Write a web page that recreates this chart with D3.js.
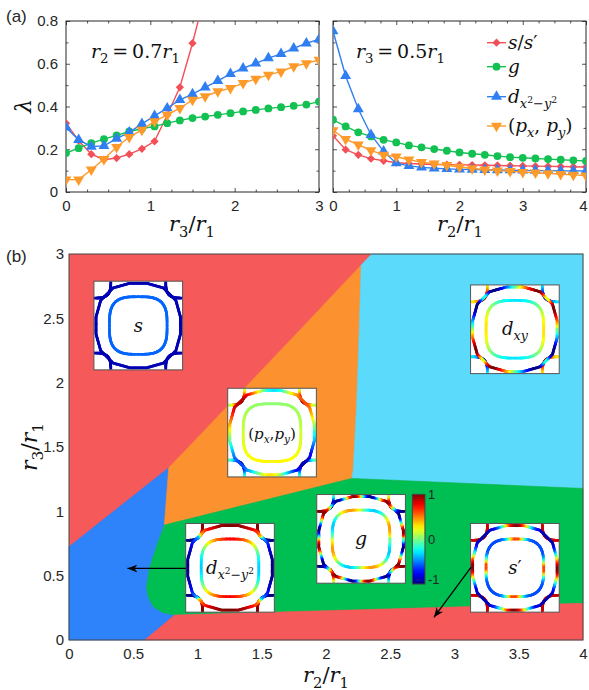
<!DOCTYPE html>
<html>
<head>
<meta charset="utf-8">
<script src="https://cdn.jsdelivr.net/npm/d3@7"></script>
<style>
  body { margin: 0; background: #fff; }
  svg { display: block; }
</style>
</head>
<body>
<svg id="fig" width="589" height="690"></svg>
<script>
// ---------- panel (a): pairing eigenvalues ----------
const xLeft  = [0, 0.15, 0.3, 0.45, 0.6, 0.75, 0.9, 1.05, 1.2, 1.35, 1.5, 1.65, 1.8, 1.95, 2.1, 2.25, 2.4, 2.55, 2.7, 2.85, 3.0];
const xRight = [0, 0.2, 0.4, 0.6, 0.8, 1.0, 1.2, 1.4, 1.6, 1.8, 2.0, 2.2, 2.4, 2.6, 2.8, 3.0, 3.2, 3.4, 3.6, 3.8, 4.0];

// r2 = 0.7 r1, as a function of r3/r1
const sLeft = [0.322, 0.240, 0.177, 0.151, 0.159, 0.177, 0.202, 0.237, 0.360, 0.490, 0.696, 0.930];
const gLeft = [0.182, 0.205, 0.229, 0.247, 0.265, 0.283, 0.296, 0.307, 0.322, 0.335, 0.346, 0.353, 0.361, 0.369, 0.377, 0.384, 0.391, 0.397, 0.403, 0.409, 0.423];
const dLeft = [0.302, 0.244, 0.213, 0.216, 0.250, 0.279, 0.319, 0.356, 0.392, 0.431, 0.458, 0.490, 0.520, 0.553, 0.579, 0.602, 0.626, 0.646, 0.672, 0.696, 0.714];
const pLeft = [0.058, 0.058, 0.104, 0.154, 0.210, 0.257, 0.291, 0.330, 0.361, 0.392, 0.431, 0.447, 0.470, 0.486, 0.509, 0.529, 0.548, 0.563, 0.587, 0.602, 0.618];

// r3 = 0.5 r1, as a function of r2/r1
const sRight = [0.263, 0.198, 0.174, 0.156, 0.146, 0.137, 0.133, 0.131, 0.129, 0.128, 0.127, 0.126, 0.125, 0.124, 0.123, 0.122, 0.121, 0.120, 0.119, 0.118, 0.117];
const gRight = [0.338, 0.307, 0.279, 0.260, 0.244, 0.232, 0.218, 0.209, 0.201, 0.193, 0.185, 0.179, 0.174, 0.168, 0.163, 0.160, 0.157, 0.154, 0.151, 0.148, 0.145];
const dRight = [0.753, 0.543, 0.388, 0.268, 0.190, 0.135, 0.122, 0.115, 0.111, 0.108, 0.106, 0.105, 0.104, 0.103, 0.102, 0.101, 0.100, 0.100, 0.099, 0.099, 0.098];
const pRight = [0.288, 0.247, 0.221, 0.195, 0.174, 0.165, 0.151, 0.140, 0.132, 0.125, 0.117, 0.110, 0.105, 0.100, 0.097, 0.093, 0.090, 0.087, 0.083, 0.080, 0.077];

const yTicksA = [0, 0.2, 0.4, 0.6, 0.8];
const yMinorA = [0.1, 0.3, 0.5, 0.7];
const xTicksL = [0, 1, 2, 3];
const xTicksR = [0, 1, 2, 3, 4];
const xMinorL = [0.25, 0.5, 0.75, 1.25, 1.5, 1.75, 2.25, 2.5, 2.75];
const xMinorR = [0.25, 0.5, 0.75, 1.25, 1.5, 1.75, 2.25, 2.5, 2.75, 3.25, 3.5, 3.75];

// ---------- panel (b): phase diagram in (r2/r1, r3/r1) ----------
const xTicksB = [0, 0.5, 1, 1.5, 2, 2.5, 3, 3.5, 4];
const yTicksB = [0, 0.5, 1, 1.5, 2, 2.5, 3];

// phase boundaries
const phaseBlue   = [[0, 0], [0, 0.725], [0.776, 1.339], [0.742, 0.894], [0.681, 0.725], [0.629, 0.570], [0.603, 0.414], [0.616, 0.337], [0.655, 0.259], [0.733, 0.212], [0.823, 0.194], [0.59, 0]];
const phaseOrange = [[0.776, 1.339], [0.95, 1.52], [1.797, 2.409], [2.274, 2.914], [2.256, 2.33], [2.238, 1.813], [2.212, 1.321], [2.20, 1.256], [0.742, 0.894]];
const phaseCyan   = [[2.274, 2.914], [2.355, 3.0], [4, 3], [4, 1.178], [2.20, 1.256], [2.212, 1.321], [2.238, 1.813], [2.256, 2.33]];
const phaseGreen  = [[0.742, 0.894], [2.20, 1.256], [4, 1.178], [4, 0.285], [0.823, 0.194], [0.733, 0.212], [0.655, 0.259], [0.616, 0.337], [0.603, 0.414], [0.629, 0.570], [0.681, 0.725]];
const phaseRedLow = [[0.59, 0], [0.823, 0.194], [4, 0.285], [4, 0]];

// Fermi-surface insets: gap symmetry, centre (r2, r3)
const insetKeys    = ['s', 'p', 'dxy', 'd', 'g', 'sp'];
const insetCenters = [[0.539, 2.444], [1.580, 1.612], [3.470, 2.415], [1.253, 0.561], [2.273, 0.786], [3.470, 0.561]];
const insetSize = 0.69;        // in r2/r1 units
const colorbarBox = [[2.672, 1.132], [2.770, 0.435]];
const colorbarTicks = [1, 0, -1];
const arrowD  = [[0.91, 0.556], [0.455, 0.556]];
const arrowSp = [[3.128, 0.565], [2.84, 0.176]];

// ---------- styles ----------
const C = { s: '#f24f57', g: '#12c152', d: '#2f7ff2', p: '#fd9a2a' };
const PH = { red: '#f65959', orange: '#fc9130', cyan: '#5bdafc', green: '#00bf52', blue: '#2e82fa' };
const SANS = "'Liberation Sans', Arial, Helvetica, sans-serif";
const SERIF = "'DejaVu Serif', 'Liberation Serif', serif";
const AX = '#262626';

const svg = d3.select('#fig');
svg.append('rect').attr('width', 589).attr('height', 690).attr('fill', '#fff');

// math text: parts = [text, 'i'|'r', level]; level b=baseline, sub, ss=sup inside sub
function math(g, x, y, size, parts, anchor = 'start', rot = null) {
  const t = g.append('text').attr('x', x).attr('y', y)
    .attr('font-family', SERIF).attr('font-size', size)
    .attr('text-anchor', anchor).attr('fill', '#111');
  if (rot !== null) t.attr('transform', `rotate(${rot},${x},${y})`);
  const OFF = { b: 0, sub: 0.28, ss: 0.0 };
  const SZ  = { b: 1, sub: 0.7, ss: 0.5 };
  let cur = 0;
  parts.forEach(([s, st = 'i', lv = 'b']) => {
    const off = OFF[lv] * size;
    t.append('tspan').attr('dy', off - cur).attr('font-size', SZ[lv] * size)
      .attr('font-style', st === 'i' ? 'italic' : 'normal').text(s);
    cur = off;
  });
  return t;
}

// ---------- panel (a) ----------
const yA = d3.scaleLinear().domain([0, 0.8]).range([192, 21]);
const xL = d3.scaleLinear().domain([0, 3]).range([66, 319]);
const xR = d3.scaleLinear().domain([0, 4]).range([333, 586]);

function axesBox(x, y, xt, xm, yLabels, id) {
  const g = svg.append('g');
  const [x0, x1] = x.range(), [y0, y1] = y.range();
  const ax = (a, ticks, len, fmt) => a.tickValues(ticks).tickSizeInner(len).tickSizeOuter(0).tickFormat(fmt);
  const none = () => '';
  g.append('g').attr('class', 'xlab').attr('transform', `translate(0,${y0})`)
    .call(ax(d3.axisBottom(x), xt, -4, d => String(d)).tickPadding(8));
  g.append('g').attr('transform', `translate(0,${y0})`).call(ax(d3.axisBottom(x), xm, -2.5, none));
  g.append('g').attr('transform', `translate(0,${y1})`).call(ax(d3.axisTop(x), xt, -4, none));
  g.append('g').attr('transform', `translate(0,${y1})`).call(ax(d3.axisTop(x), xm, -2.5, none));
  g.append('g').attr('transform', `translate(${x0},0)`)
    .call(ax(d3.axisLeft(y), yTicksA, -4, yLabels ? (d => String(d)) : none).tickPadding(8));
  g.append('g').attr('transform', `translate(${x0},0)`).call(ax(d3.axisLeft(y), yMinorA, -2.5, none));
  g.append('g').attr('transform', `translate(${x1},0)`).call(ax(d3.axisRight(y), yTicksA, -4, none));
  g.append('g').attr('transform', `translate(${x1},0)`).call(ax(d3.axisRight(y), yMinorA, -2.5, none));
  g.selectAll('.domain').remove();
  g.selectAll('line').attr('stroke', AX).attr('stroke-width', 0.8);
  g.selectAll('text').attr('font-family', SANS).attr('font-size', 15).attr('fill', AX);
  g.append('rect').attr('x', x0).attr('y', y1).attr('width', x1 - x0).attr('height', y0 - y1)
    .attr('fill', 'none').attr('stroke', AX).attr('stroke-width', 1);
  svg.append('clipPath').attr('id', id).append('rect')
    .attr('x', x0).attr('y', y1).attr('width', x1 - x0).attr('height', y0 - y1);
  return g;
}
axesBox(xL, yA, xTicksL, xMinorL, true, 'clipL');
const gRightAx = axesBox(xR, yA, xTicksR, xMinorR, false, 'clipR');
// keep the last tick label inside the page
gRightAx.selectAll('.xlab text').filter(d => d === 4).attr('dx', -3);

const sym = {
  s: d3.symbol().type(d3.symbolSquare).size(34),
  g: d3.symbol().type(d3.symbolCircle).size(48),
  d: d3.symbol().type(d3.symbolTriangle).size(52),
  p: d3.symbol().type(d3.symbolTriangle).size(52)
};
const rotOf = { s: 45, g: 0, d: 0, p: 180 };

function series(xs, ys, x, key, clip) {
  const g = svg.append('g').attr('clip-path', `url(#${clip})`);
  const pts = ys.map((v, i) => [xs[i], v]);
  g.append('path').attr('d', d3.line().x(d => x(d[0])).y(d => yA(d[1]))(pts))
    .attr('fill', 'none').attr('stroke', C[key]).attr('stroke-width', 1.4);
  g.selectAll('path.m').data(pts).join('path').attr('class', 'm')
    .attr('d', sym[key]).attr('fill', C[key])
    .attr('transform', d => `translate(${x(d[0])},${yA(d[1])}) rotate(${rotOf[key]})`);
}
series(xLeft, sLeft, xL, 's', 'clipL');
series(xLeft, gLeft, xL, 'g', 'clipL');
series(xLeft, dLeft, xL, 'd', 'clipL');
series(xLeft, pLeft, xL, 'p', 'clipL');
series(xRight, sRight, xR, 's', 'clipR');
series(xRight, gRight, xR, 'g', 'clipR');
series(xRight, dRight, xR, 'd', 'clipR');
series(xRight, pRight, xR, 'p', 'clipR');

// legend
const legendRows = [
  ['s', 42.7, [['s'], ['/', 'r'], ['s'], ['′', 'r']]],
  ['g', 66.7, [['g']]],
  ['d', 96.7, [['d'], ['x', 'i', 'sub'], ['2', 'r', 'ss'], ['−', 'r', 'sub'], ['y', 'i', 'sub'], ['2', 'r', 'ss']]],
  ['p', 126, [['(', 'r'], ['p'], ['x', 'i', 'sub'], [', ', 'r'], ['p'], ['y', 'i', 'sub'], [')', 'r']]]
];
legendRows.forEach(([k, y, parts]) => {
  svg.append('line').attr('x1', 487).attr('x2', 506).attr('y1', y).attr('y2', y)
    .attr('stroke', C[k]).attr('stroke-width', 1.4);
  svg.append('path').attr('d', sym[k]).attr('fill', C[k])
    .attr('transform', `translate(496.5,${y}) rotate(${rotOf[k]})`);
  math(svg, 508, y + 6, 18.5, parts);
});

math(svg, 91, 58, 19, [['r'], ['2', 'r', 'sub'], ['\u2009=\u2009', 'r'], ['0.7', 'r'], ['r'], ['1', 'r', 'sub']]);
math(svg, 356, 58, 19, [['r'], ['3', 'r', 'sub'], ['\u2009=\u2009', 'r'], ['0.5', 'r'], ['r'], ['1', 'r', 'sub']]);
math(svg, 192, 231, 21, [['r'], ['3', 'r', 'sub'], ['/', 'r'], ['r'], ['1', 'r', 'sub']], 'middle');
math(svg, 460, 231, 21, [['r'], ['2', 'r', 'sub'], ['/', 'r'], ['r'], ['1', 'r', 'sub']], 'middle');
math(svg, 31, 106, 22, [['λ']], 'middle', -90);

svg.append('text').attr('x', 6).attr('y', 22).attr('font-family', SANS).attr('font-size', 17)
  .attr('fill', AX).text('(a)');
svg.append('text').attr('x', 6).attr('y', 262).attr('font-family', SANS).attr('font-size', 17)
  .attr('fill', AX).text('(b)');

// ---------- panel (b) ----------
const xP = d3.scaleLinear().domain([0, 4]).range([69, 583]);
const yP = d3.scaleLinear().domain([0, 3]).range([640, 254]);
const poly = pts => d3.line().x(d => xP(d[0])).y(d => yP(d[1]))(pts) + 'Z';
const gB = svg.append('g');
gB.append('rect').attr('x', xP(0)).attr('y', yP(3)).attr('width', xP(4) - xP(0))
  .attr('height', yP(0) - yP(3)).attr('fill', PH.red);
[[phaseBlue, PH.blue], [phaseOrange, PH.orange], [phaseCyan, PH.cyan],
 [phaseGreen, PH.green], [phaseRedLow, PH.red]].forEach(([pts, col]) => {
  gB.append('path').attr('d', poly(pts)).attr('fill', col).attr('stroke', col).attr('stroke-width', 0.6);
});
gB.append('rect').attr('x', xP(0)).attr('y', yP(3)).attr('width', xP(4) - xP(0))
  .attr('height', yP(0) - yP(3)).attr('fill', 'none').attr('stroke', '#444').attr('stroke-width', 1);

const axB = svg.append('g');
axB.append('g').attr('transform', `translate(0,${yP(0)})`)
  .call(d3.axisBottom(xP).tickValues(xTicksB).tickSize(0).tickPadding(8).tickFormat(d => String(d)));
axB.append('g').attr('transform', `translate(${xP(0)},0)`)
  .call(d3.axisLeft(yP).tickValues(yTicksB).tickSize(0).tickPadding(5).tickFormat(d => String(d)));
axB.selectAll('.domain').remove();
axB.selectAll('text').attr('font-family', SANS).attr('font-size', 15).attr('fill', AX);

math(svg, 326, 682, 21, [['r'], ['2', 'r', 'sub'], ['/', 'r'], ['r'], ['1', 'r', 'sub']], 'middle');
math(svg, 37, 447, 22, [['r'], ['3', 'r', 'sub'], ['/', 'r'], ['r'], ['1', 'r', 'sub']], 'middle', -90);

// ---------- Fermi-surface insets coloured by the gap (jet colormap) ----------
function jet(v) {
  const t = Math.max(0, Math.min(1, (v + 1) / 2));
  const c = x => Math.round(255 * Math.max(0, Math.min(1, x)));
  return `rgb(${c(1.5 - Math.abs(4 * t - 3))},${c(1.5 - Math.abs(4 * t - 2))},${c(1.5 - Math.abs(4 * t - 1))})`;
}
const clamp = v => Math.max(-1, Math.min(1, v));
const sharp = (x, p) => Math.sign(x) * Math.pow(Math.abs(x), p);

// outer sheet: superellipse sampled on a coarse 16-point grid (faceted look)
const OUT_A = 0.48, OUT_N = 2.5;
function superR(th, a, n) {
  return a / Math.pow(Math.pow(Math.abs(Math.cos(th)), n) + Math.pow(Math.abs(Math.sin(th)), n), 1 / n);
}
function outerPt(th) {
  const step = Math.PI / 8, off = Math.PI / 16;
  const k = Math.floor((th - off) / step);
  const a0 = off + k * step, a1 = a0 + step;
  const p0 = [superR(a0, OUT_A, OUT_N) * Math.cos(a0), superR(a0, OUT_A, OUT_N) * Math.sin(a0)];
  const p1 = [superR(a1, OUT_A, OUT_N) * Math.cos(a1), superR(a1, OUT_A, OUT_N) * Math.sin(a1)];
  // intersect the ray at angle th with the facet p0-p1
  const dx = Math.cos(th), dy = Math.sin(th);
  const ex = p1[0] - p0[0], ey = p1[1] - p0[1];
  const den = dx * ey - dy * ex;
  const r = (p0[0] * ey - p0[1] * ex) / den;
  return [r * dx, r * dy];
}
// inner sheet: superellipse
function innerPt(t) {
  const b = 0.325, e = 2 / 3.2;
  const c = Math.cos(t), s = Math.sin(t);
  return [b * Math.sign(c) * Math.pow(Math.abs(c), e), b * Math.sign(s) * Math.pow(Math.abs(s), e)];
}
// corner pockets: psi = 0 on the top/bottom edge, pi/2 on the left/right edge
function pocketPt(cx, cy, psi) {
  const R = 0.19, e = 2 / 3.2;
  return [cx * 0.5 - cx * R * Math.pow(Math.cos(psi), e), cy * 0.5 - cy * R * Math.pow(Math.sin(psi), e)];
}

function nearDiag(th) {
  let m = ((th * 180 / Math.PI - 45) % 90 + 90) % 90;
  if (m > 45) m -= 90;
  return m;
}

const gapFns = {
  s:  { outer: () => -0.9, inner: () => -0.55, pocket: () => -0.9, size: 18, label: [['s']] },
  sp: { outer: th => -0.9 + 1.9 * Math.pow((1 + Math.cos(4 * th)) / 2, 2),
        inner: th => -0.6 + 1.3 * Math.pow((1 + Math.cos(4 * th)) / 2, 3),
        pocket: () => 0.85, size: 18, label: [['s'], ['′', 'r']] },
  d:  { outer: th => sharp(-Math.cos(2 * th), 0.4),
        inner: th => 0.2 - 0.55 * Math.cos(2 * th),
        pocket: psi => sharp(Math.cos(2 * psi), 0.5), size: 18,
        label: [['d'], ['x', 'i', 'sub'], ['2', 'r', 'ss'], ['−', 'r', 'sub'], ['y', 'i', 'sub'], ['2', 'r', 'ss']] },
  dxy: { outer: th => 1.25 * Math.sin(2 * th) * (1 - 0.85 * Math.exp(-Math.pow(nearDiag(th) / 9, 2))),
         inner: th => 0.3 * Math.cos(2 * th),
         pocket: (psi, cx, cy) => -Math.sin(2 * Math.atan2(cy, cx)) * 0.9 * (0.3 + 0.7 * Math.sin(2 * psi)),
         size: 18, label: [['d'], ['xy', 'i', 'sub']] },
  g:  { outer: th => Math.sin(8 * th),
        inner: th => 0.05 + 0.4 * Math.sin(4 * th),
        pocket: (psi, cx, cy) => (-cx * cy) * -Math.sin(3 * psi),
        size: 19, label: [['g']] },
  p:  { outer: th => 1.25 * Math.sin(th) - 1.55 * Math.pow(Math.sin(th), 7) - 0.2 * Math.cos(th),
        inner: th => 0.15 - 0.12 * Math.sin(th),
        pocket: (psi, cx, cy) => cy * 0.95 * Math.pow(Math.sin(2 * psi), 0.7),
        size: 15, label: [['(', 'r'], ['p'], ['x', 'i', 'sub'], [',', 'r'], ['p'], ['y', 'i', 'sub'], [')', 'r']] }
};

const S = xP(insetSize) - xP(0);
insetKeys.forEach((key, idx) => {
  const f = gapFns[key];
  const [cxD, cyD] = insetCenters[idx];
  const X0 = xP(cxD) - S / 2, Y0 = yP(cyD) - S / 2;
  const g = svg.append('g').attr('transform', `translate(${X0},${Y0})`);
  const cid = 'clipInset' + idx;
  g.append('clipPath').attr('id', cid).append('rect').attr('width', S).attr('height', S);
  g.append('rect').attr('width', S).attr('height', S).attr('fill', '#fff');
  const body = g.append('g').attr('clip-path', `url(#${cid})`);
  const P = ([u, v]) => [(u + 0.5) * S, (0.5 - v) * S];
  const drawCurve = (pts, vals) => {
    for (let i = 0; i < pts.length - 1; i++) {
      const a = P(pts[i]), b = P(pts[i + 1]);
      body.append('line').attr('x1', a[0]).attr('y1', a[1]).attr('x2', b[0]).attr('y2', b[1])
        .attr('stroke', jet(clamp(vals[i]))).attr('stroke-width', 2.8).attr('stroke-linecap', 'round');
    }
  };
  // corner pockets
  [[-1, 1], [1, 1], [1, -1], [-1, -1]].forEach(([cx, cy]) => {
    const n = 40, pts = [], vals = [];
    for (let i = 0; i <= n; i++) {
      const psi = (Math.PI / 2) * i / n;
      pts.push(pocketPt(cx, cy, psi));
      vals.push(f.pocket(psi + Math.PI / 4 / n, cx, cy));
    }
    drawCurve(pts, vals);
  });
  // outer and inner sheets
  {
    const n = 224, pts = [], vals = [];
    for (let i = 0; i <= n; i++) {
      const th = 2 * Math.PI * i / n;
      pts.push(outerPt(th));
      vals.push(f.outer(th + Math.PI / n));
    }
    drawCurve(pts, vals);
  }
  {
    const n = 180, pts = [], vals = [];
    for (let i = 0; i <= n; i++) {
      const t = 2 * Math.PI * i / n;
      pts.push(innerPt(t));
      const q = innerPt(t + Math.PI / n);
      vals.push(f.inner(Math.atan2(q[1], q[0])));
    }
    drawCurve(pts, vals);
  }
  g.append('rect').attr('width', S).attr('height', S).attr('fill', 'none')
    .attr('stroke', '#555').attr('stroke-width', 1);
  math(g, S / 2, S / 2 + 6, f.size, f.label, 'middle');
});

// colour bar
{
  const defs = svg.append('defs');
  const grad = defs.append('linearGradient').attr('id', 'jetGrad')
    .attr('x1', 0).attr('y1', 0).attr('x2', 0).attr('y2', 1);
  d3.range(0, 1.0001, 0.05).forEach(o => {
    grad.append('stop').attr('offset', o).attr('stop-color', jet(1 - 2 * o));
  });
  const [[bx0, by0], [bx1, by1]] = colorbarBox;
  const x0 = xP(bx0), x1 = xP(bx1), y0 = yP(by0), y1 = yP(by1);
  svg.append('rect').attr('x', x0).attr('y', y0).attr('width', x1 - x0).attr('height', y1 - y0)
    .attr('fill', 'url(#jetGrad)').attr('stroke', '#444').attr('stroke-width', 1);
  const cb = d3.scaleLinear().domain([-1, 1]).range([y1, y0]);
  colorbarTicks.forEach(t => {
    svg.append('text').attr('x', x1 + 3).attr('y', cb(t) + (t === -1 ? 0 : 5))
      .attr('font-family', SANS).attr('font-size', 13).attr('fill', AX).text(String(t));
  });
}

// arrows pointing from the insets into their phases
{
  const defs = svg.append('defs');
  defs.append('marker').attr('id', 'head').attr('viewBox', '-10 -5 12 10')
    .attr('markerWidth', 12).attr('markerHeight', 10).attr('refX', 0).attr('refY', 0)
    .attr('orient', 'auto').attr('markerUnits', 'userSpaceOnUse')
    .append('path').attr('d', 'M0,0 L-10,-4 L-7,0 L-10,4 Z').attr('fill', '#000');
  [arrowD, arrowSp].forEach(([a, b]) => {
    svg.append('line').attr('x1', xP(a[0])).attr('y1', yP(a[1])).attr('x2', xP(b[0])).attr('y2', yP(b[1]))
      .attr('stroke', '#000').attr('stroke-width', 1.3).attr('marker-end', 'url(#head)');
  });
}
</script>
</body>
</html>
